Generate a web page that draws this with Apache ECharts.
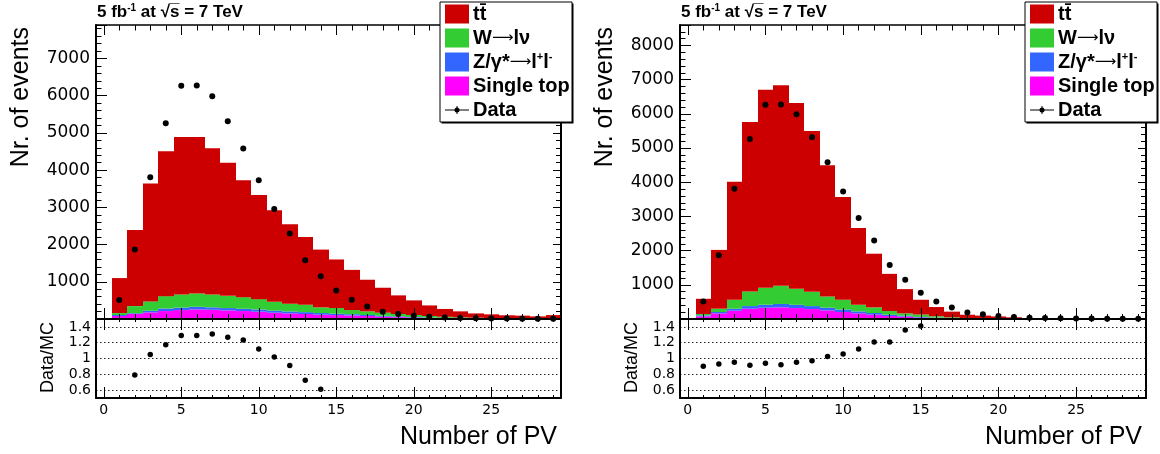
<!DOCTYPE html>
<html>
<head>
<meta charset="utf-8">
<script src="https://cdn.jsdelivr.net/npm/echarts@6/dist/echarts.min.js"></script>
<style>
html, body { margin: 0; padding: 0; background: #fff; }
#chart { width: 1160px; height: 454px; }
</style>
</head>
<body>
<div id="chart"></div>
<script>
// bin centres, number of primary vertices
const pvBins = [1, 2, 3, 4, 5, 6, 7, 8, 9, 10, 11, 12, 13, 14, 15, 16, 17, 18, 19, 20, 21, 22, 23, 24, 25, 26, 27, 28, 29];

// data, same in both panels
const dataCounts = [509, 1868, 3807, 5263, 6265, 6273, 5987, 5316, 4584, 3727, 2957, 2297, 1582, 1150, 765, 515, 335, 192, 136, 89, 60, 40, 30, 20, 15, 12, 10, 8, 6];

// left panel: MC before pile-up reweighting
const leftTtbar = [940, 2043, 3168, 3896, 4231, 4205, 3926, 3577, 3143, 2796, 2457, 2136, 1822, 1553, 1306, 1080, 850, 671, 501, 393, 285, 210, 160, 115, 100, 80, 75, 58, 95];
const leftWlnu = [53, 193, 250, 332, 354, 357, 346, 330, 312, 278, 240, 206, 199, 152, 151, 111, 98, 83, 64, 53, 40, 30, 23, 18, 12, 10, 8, 6, 6];
const leftZll = [27, 20, 44, 68, 65, 70, 64, 62, 61, 60, 54, 52, 50, 44, 38, 34, 27, 24, 20, 14, 10, 8, 6, 5, 4, 3, 2, 2, 1];
const leftSingleTop = [80, 134, 178, 214, 240, 258, 249, 231, 214, 196, 169, 151, 134, 116, 105, 95, 80, 62, 50, 40, 30, 22, 16, 12, 9, 7, 5, 4, 3];
const leftRatio = [null, 0.79, 1.05, 1.175, 1.29, 1.29, 1.31, 1.27, 1.235, 1.12, 1.02, 0.91, 0.725, 0.61, null, null, null, null, null, null, null, null, null, null, null, null, null, null, null];

// right panel: MC after pile-up reweighting
const rightTtbar = [446, 1719, 3449, 4956, 5794, 5870, 5432, 4704, 3839, 3007, 2245, 1570, 1088, 709, 433, 270, 165, 95, 82, 65, 44, 26, 18, 11, 7, 5, 4, 3, 2];
const rightWlnu = [39, 97, 262, 427, 494, 530, 468, 417, 330, 285, 194, 165, 107, 68, 70, 40, 25, 15, 9, 5, 3, 2, 1, 1, 0, 0, 0, 0, 0];
const rightZll = [28, 40, 58, 77, 88, 100, 95, 87, 78, 74, 58, 49, 39, 29, 15, 10, 7, 5, 3, 2, 1, 1, 0, 0, 0, 0, 0, 0, 0];
const rightSingleTop = [78, 165, 243, 301, 330, 340, 320, 291, 252, 204, 165, 126, 87, 68, 45, 30, 18, 10, 6, 3, 2, 1, 1, 0, 0, 0, 0, 0, 0];
const rightRatio = [0.903, 0.93, 0.954, 0.915, 0.94, 0.92, 0.954, 0.97, 1.026, 1.056, 1.12, 1.21, 1.21, 1.36, 1.41, null, null, null, null, null, null, null, null, null, null, null, null, null, null];

const COL_TT = '#cc0000';
const COL_W = '#33cc33';
const COL_Z = '#3366ff';
const COL_ST = '#ff00ff';

const panels = [
    {
        left: 96, width: 465, yMax: 7900,
        comps: [  // bottom -> top
            { name: 'Single top', color: COL_ST, values: leftSingleTop },
            { name: 'Z', color: COL_Z, values: leftZll },
            { name: 'W', color: COL_W, values: leftWlnu },
            { name: 'ttbar', color: COL_TT, values: leftTtbar }
        ],
        ratio: leftRatio
    },
    {
        left: 680, width: 466, yMax: 8600,
        comps: [
            { name: 'Single top', color: COL_ST, values: rightSingleTop },
            { name: 'Z', color: COL_Z, values: rightZll },
            { name: 'W', color: COL_W, values: rightWlnu },
            { name: 'ttbar', color: COL_TT, values: rightTtbar }
        ],
        ratio: rightRatio
    }
];

const MAIN_TOP = 25, MAIN_H = 294, RATIO_TOP = 319, RATIO_H = 79;
const TICK_FONT = 'DejaVu Sans';
const TEXT_FONT = 'Liberation Sans, Arial, sans-serif';

function histRender(color) {
    return function (params, api) {
        const lo = api.value(1), hi = api.value(2);
        if (hi <= lo) {
            return null;
        }
        const x = api.value(0);
        const p0 = api.coord([x - 0.5, hi]);
        const p1 = api.coord([x + 0.5, lo]);
        // snap the bin edges so neighbouring bins join without seams
        const x0 = Math.round(p0[0]), x1 = Math.round(p1[0]);
        return {
            type: 'rect',
            shape: { x: x0, y: p0[1], width: x1 - x0, height: p1[1] - p0[1] },
            style: { fill: color }
        };
    };
}

function xAxisDef(grid, pos, opts) {
    return {
        gridIndex: grid, type: 'value', position: pos, min: -0.5, max: 29.5, splitNumber: 6, z: 5,
        axisLine: { show: opts.line !== false, onZero: false, lineStyle: { color: '#000', width: opts.lw || 2 } },
        axisTick: { show: true, inside: true, length: opts.major, lineStyle: { color: '#000', width: 1 } },
        minorTick: { show: true, splitNumber: 5, length: opts.minor, lineStyle: { color: '#000', width: 1 } },
        axisLabel: opts.labels ? {
            show: true, margin: 5, color: '#000', fontFamily: TICK_FONT, fontSize: 14,
            formatter: v => (Math.abs(v % 5) < 1e-6 ? String(v) : '')
        } : { show: false },
        splitLine: { show: false }
    };
}

const grid = [], xAxis = [], yAxis = [], series = [], graphic = [];

panels.forEach((p, k) => {
    const gMain = grid.length;
    grid.push({ left: p.left, top: MAIN_TOP, width: p.width, height: MAIN_H });
    const gRatio = grid.length;
    grid.push({ left: p.left, top: RATIO_TOP, width: p.width, height: RATIO_H });

    // main pad axes
    const xMain = xAxis.length;
    xAxis.push(xAxisDef(gMain, 'bottom', { major: 11, minor: 5, lw: 2 }));
    xAxis.push(xAxisDef(gMain, 'top', { major: 10, minor: 5.5, lw: 1.5 }));
    const yMain = yAxis.length;
    [['left', 11, 5.5, true], ['right', 8, 5, false]].forEach(([pos, maj, mnr, lab]) => {
        yAxis.push({
            gridIndex: gMain, type: 'value', position: pos, min: 0, max: p.yMax, interval: 1000, z: 5,
            axisLine: { show: true, onZero: false, lineStyle: { color: '#000', width: 2 } },
            axisTick: { show: true, inside: true, length: maj, lineStyle: { color: '#000' } },
            minorTick: { show: true, splitNumber: 5, length: mnr, lineStyle: { color: '#000' } },
            axisLabel: lab ? {
                show: true, margin: 6, color: '#000', fontFamily: TICK_FONT, fontSize: 17,
                formatter: v => (v > 0 && v % 1000 === 0 ? String(v) : '')
            } : { show: false },
            splitLine: { show: false }
        });
    });

    // ratio pad axes
    const xRatio = xAxis.length;
    xAxis.push(xAxisDef(gRatio, 'bottom', { major: 11, minor: 3, lw: 2, labels: true }));
    xAxis.push(xAxisDef(gRatio, 'top', { major: 11, minor: 3, line: false }));
    const yRatio = yAxis.length;
    yAxis.push({
        gridIndex: gRatio, type: 'value', position: 'left', min: 0.5, max: 1.5, splitNumber: 5, z: 5,
        axisLine: { show: true, onZero: false, lineStyle: { color: '#000', width: 2 } },
        axisTick: { show: false },
        axisLabel: {
            show: true, margin: 5, color: '#000', fontFamily: TICK_FONT, fontSize: 14,
            formatter: v => (v > 0.55 && v < 1.45 ? String(+v.toFixed(1)) : '')
        },
        splitLine: { show: true, lineStyle: { color: '#222', type: [1.5, 2.5], width: 1 } }
    });
    yAxis.push({
        gridIndex: gRatio, type: 'value', position: 'right', min: 0.5, max: 1.5, splitNumber: 5, z: 5,
        axisLine: { show: true, onZero: false, lineStyle: { color: '#000', width: 2 } },
        axisTick: { show: false }, axisLabel: { show: false }, splitLine: { show: false }
    });

    // stacked MC histograms
    const base = pvBins.map(() => 0);
    p.comps.forEach(c => {
        const data = pvBins.map((x, i) => {
            const lo = base[i];
            base[i] += c.values[i];
            return [x, lo, base[i]];
        });
        series.push({
            name: c.name, type: 'custom', xAxisIndex: xMain, yAxisIndex: yMain, clip: true,
            renderItem: histRender(c.color), encode: { x: 0, y: [1, 2] }, data: data, z: 2
        });
    });

    // data points
    series.push({
        name: 'Data', type: 'scatter', xAxisIndex: xMain, yAxisIndex: yMain,
        symbol: 'circle', symbolSize: 6, itemStyle: { color: '#000', opacity: 1 }, z: 4,
        data: pvBins.map((x, i) => [x, dataCounts[i]])
    });

    // data / MC
    series.push({
        name: 'Data/MC', type: 'scatter', xAxisIndex: xRatio, yAxisIndex: yRatio,
        symbol: 'circle', symbolSize: 5.5, itemStyle: { color: '#000', opacity: 1 }, z: 4,
        data: pvBins.map((x, i) => (p.ratio[i] == null ? null : [x, p.ratio[i]])).filter(d => d)
    });

    // texts
    const right = p.left + p.width;
    graphic.push({
        type: 'text', x: p.left + 1, y: 12,
        style: {
            text: '{n|5 fb}{s|-1}{n| at √s̅ = 7 TeV}', verticalAlign: 'middle',
            rich: {
                n: { fontFamily: TEXT_FONT, fontWeight: 'bold', fontSize: 17, lineHeight: 18, fill: '#000' },
                s: { fontFamily: TEXT_FONT, fontWeight: 'bold', fontSize: 10, lineHeight: 18, verticalAlign: 'top', fill: '#000' }
            }
        }
    });
    graphic.push({
        type: 'text', x: p.left - 75, y: 27, rotation: Math.PI / 2,
        style: { text: 'Nr. of events', fontFamily: TEXT_FONT, fontSize: 25, align: 'right', verticalAlign: 'middle', fill: '#000' }
    });
    graphic.push({
        type: 'text', x: p.left - 48, y: 322, rotation: Math.PI / 2,
        style: { text: 'Data/MC', fontFamily: TEXT_FONT, fontSize: 18, align: 'right', verticalAlign: 'middle', fill: '#000' }
    });
    graphic.push({
        type: 'text', x: right - 4, y: 437,
        style: { text: 'Number of PV', fontFamily: TEXT_FONT, fontSize: 25, align: 'right', verticalAlign: 'middle', fill: '#000' }
    });

    // legend box
    const bx = right - 121, by = 2, bw = 132, bh = 120;
    graphic.push({ type: 'rect', shape: { x: bx + 1.5, y: by + 1.5, width: bw, height: bh }, style: { fill: '#000' }, z: 10 });
    graphic.push({ type: 'rect', shape: { x: bx, y: by, width: bw, height: bh }, style: { fill: '#fff', stroke: '#000', lineWidth: 1 }, z: 11 });
    const entries = [
        { color: COL_TT, label: '{n|tt̄}' },
        { color: COL_W, label: '{n|W}{a|⟶}{n|lν}' },
        { color: COL_Z, label: '{n|Z/γ*}{a|⟶}{n|l}{s|+}{n|l}{s|-}' },
        { color: COL_ST, label: '{n|Single top}' },
        { color: null, label: '{n|Data}' }
    ];
    entries.forEach((e, i) => {
        const cy = by + 12 + i * 24;
        if (e.color) {
            graphic.push({ type: 'rect', shape: { x: bx + 5, y: cy - 9.5, width: 24, height: 19 }, style: { fill: e.color }, z: 12 });
        } else {
            graphic.push({ type: 'line', shape: { x1: bx + 5, y1: cy, x2: bx + 29, y2: cy }, style: { stroke: '#000', lineWidth: 1 }, z: 12 });
            graphic.push({ type: 'line', shape: { x1: bx + 17, y1: cy - 4, x2: bx + 17, y2: cy + 4 }, style: { stroke: '#000', lineWidth: 1 }, z: 12 });
            graphic.push({ type: 'circle', shape: { cx: bx + 17, cy: cy, r: 2.5 }, style: { fill: '#000' }, z: 12 });
        }
        graphic.push({
            type: 'text', x: bx + 33, y: cy, z: 12,
            style: {
                text: e.label, verticalAlign: 'middle',
                rich: {
                    n: { fontFamily: TEXT_FONT, fontWeight: 'bold', fontSize: 20, lineHeight: 22, fill: '#000' },
                    a: { fontFamily: 'DejaVu Sans', fontWeight: 'normal', fontSize: 15, lineHeight: 22, fill: '#000' },
                    s: { fontFamily: TEXT_FONT, fontWeight: 'bold', fontSize: 11, lineHeight: 22, verticalAlign: 'top', fill: '#000' }
                }
            }
        });
    });
});

const chart = echarts.init(document.getElementById('chart'));
chart.setOption({
    animation: false,
    backgroundColor: '#fff',
    grid: grid,
    xAxis: xAxis,
    yAxis: yAxis,
    series: series,
    graphic: graphic
});
</script>
</body>
</html>
